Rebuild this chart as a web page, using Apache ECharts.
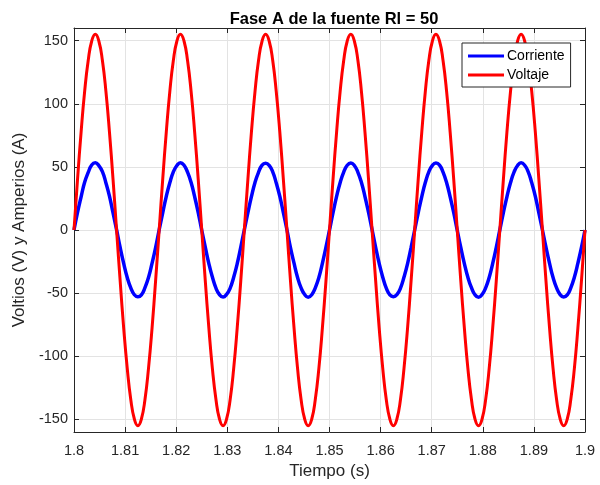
<!DOCTYPE html>
<html>
<head>
<meta charset="utf-8">
<title>Fase A de la fuente Rl = 50</title>
<script src="https://cdn.jsdelivr.net/npm/echarts@6/dist/echarts.min.js"></script>
<style>
  html, body { margin: 0; padding: 0; background: #fff; }
  #chart { width: 600px; height: 485px; }
</style>
</head>
<body>
<div id="chart"></div>
<script>
// tiempo (s), una muestra cada 1/24 de periodo (60 Hz)
const tiempo = [
  1.8, 1.80069, 1.80139, 1.80208, 1.80278, 1.80347, 1.80417, 1.80486, 1.80556, 1.80625, 1.80694, 1.80764,
  1.80833, 1.80903, 1.80972, 1.81042, 1.81111, 1.81181, 1.8125, 1.81319, 1.81389, 1.81458, 1.81528, 1.81597,
  1.81667, 1.81736, 1.81806, 1.81875, 1.81944, 1.82014, 1.82083, 1.82153, 1.82222, 1.82292, 1.82361, 1.82431,
  1.825, 1.82569, 1.82639, 1.82708, 1.82778, 1.82847, 1.82917, 1.82986, 1.83056, 1.83125, 1.83194, 1.83264,
  1.83333, 1.83403, 1.83472, 1.83542, 1.83611, 1.83681, 1.8375, 1.83819, 1.83889, 1.83958, 1.84028, 1.84097,
  1.84167, 1.84236, 1.84306, 1.84375, 1.84444, 1.84514, 1.84583, 1.84653, 1.84722, 1.84792, 1.84861, 1.84931,
  1.85, 1.85069, 1.85139, 1.85208, 1.85278, 1.85347, 1.85417, 1.85486, 1.85556, 1.85625, 1.85694, 1.85764,
  1.85833, 1.85903, 1.85972, 1.86042, 1.86111, 1.86181, 1.8625, 1.86319, 1.86389, 1.86458, 1.86528, 1.86597,
  1.86667, 1.86736, 1.86806, 1.86875, 1.86944, 1.87014, 1.87083, 1.87153, 1.87222, 1.87292, 1.87361, 1.87431,
  1.875, 1.87569, 1.87639, 1.87708, 1.87778, 1.87847, 1.87917, 1.87986, 1.88056, 1.88125, 1.88194, 1.88264,
  1.88333, 1.88403, 1.88472, 1.88542, 1.88611, 1.88681, 1.8875, 1.88819, 1.88889, 1.88958, 1.89028, 1.89097,
  1.89167, 1.89236, 1.89306, 1.89375, 1.89444, 1.89514, 1.89583, 1.89653, 1.89722, 1.89792, 1.89861, 1.89931,
  1.9
]

// corriente (A), con un poco de ruido
const corriente = [
  0, 13.9, 26.3, 37.8, 45.6, 51.5, 53.2, 51.0, 46.2, 37.3, 26.8, 13.5,
  0.3, -13.8, -26.4, -37.6, -45.8, -51.3, -52.9, -51.4, -45.7, -37.7, -26.3, -13.9,
  0.2, 13.6, 26.7, 37.4, 46.1, 51.1, 53.3, 51.3, 45.8, 37.6, 26.4, 13.8,
  -0.2, -13.6, -26.6, -37.3, -46.0, -51.2, -53.1, -51.0, -46.1, -37.4, -26.7, -13.5,
  0.1, 13.8, 26.4, 37.7, 45.7, 51.4, 52.9, 51.2, 46.0, 37.3, 26.6, 13.7,
  0.2, -13.9, -26.3, -37.6, -45.9, -51.1, -53.2, -51.3, -45.8, -37.7, -26.4, -13.6,
  -0.1, 13.7, 26.6, 37.5, 45.9, 51.3, 53.1, 51.1, 45.7, 37.6, 26.5, 13.9,
  0.3, -13.7, -26.5, -37.4, -46.1, -51.4, -52.8, -51.2, -46.0, -37.3, -26.6, -13.8,
  0, 13.6, 26.5, 37.6, 46.0, 51.2, 53.0, 51.4, 45.8, 37.5, 26.3, 13.7,
  -0.2, -13.8, -26.6, -37.5, -45.7, -51.3, -53.3, -51.1, -45.9, -37.6, -26.5, -13.7,
  0.1, 13.8, 26.3, 37.4, 45.8, 51.1, 53.2, 51.3, 46.1, 37.4, 26.7, 13.6,
  0, -13.6, -26.4, -37.7, -45.9, -51.2, -53.0, -51.4, -45.8, -37.4, -26.3, -13.8,
  0
]

// voltaje (V)
const voltaje = [
  0, 40.1, 77.5, 109.6, 134.2, 149.7, 155, 149.7, 134.2, 109.6, 77.5, 40.1,
  0, -40.1, -77.5, -109.6, -134.2, -149.7, -155, -149.7, -134.2, -109.6, -77.5, -40.1,
  0, 40.1, 77.5, 109.6, 134.2, 149.7, 155, 149.7, 134.2, 109.6, 77.5, 40.1,
  0, -40.1, -77.5, -109.6, -134.2, -149.7, -155, -149.7, -134.2, -109.6, -77.5, -40.1,
  0, 40.1, 77.5, 109.6, 134.2, 149.7, 155, 149.7, 134.2, 109.6, 77.5, 40.1,
  0, -40.1, -77.5, -109.6, -134.2, -149.7, -155, -149.7, -134.2, -109.6, -77.5, -40.1,
  0, 40.1, 77.5, 109.6, 134.2, 149.7, 155, 149.7, 134.2, 109.6, 77.5, 40.1,
  0, -40.1, -77.5, -109.6, -134.2, -149.7, -155, -149.7, -134.2, -109.6, -77.5, -40.1,
  0, 40.1, 77.5, 109.6, 134.2, 149.7, 155, 149.7, 134.2, 109.6, 77.5, 40.1,
  0, -40.1, -77.5, -109.6, -134.2, -149.7, -155, -149.7, -134.2, -109.6, -77.5, -40.1,
  0, 40.1, 77.5, 109.6, 134.2, 149.7, 155, 149.7, 134.2, 109.6, 77.5, 40.1,
  0, -40.1, -77.5, -109.6, -134.2, -149.7, -155, -149.7, -134.2, -109.6, -77.5, -40.1,
  0
]

const xTicks = [1.8, 1.81, 1.82, 1.83, 1.84, 1.85, 1.86, 1.87, 1.88, 1.89, 1.9]
const yTicks = [-150, -100, -50, 0, 50, 100, 150]

const font = 'Liberation Sans, Arial, Helvetica, sans-serif'
const ink = '#262626'

function pares(ys) {
  return tiempo.map((t, i) => [t, ys[i]])
}

function ejeX(extra) {
  return Object.assign({
    type: 'value',
    min: 1.8,
    max: 1.9,
    axisLine: { onZero: false, lineStyle: { color: ink, width: 1 } },
    axisTick: { inside: true, length: 5, customValues: xTicks, lineStyle: { color: ink } },
    axisLabel: { customValues: xTicks, color: ink, fontSize: 14.5, fontFamily: font, margin: 11 },
    splitLine: { show: true, lineStyle: { color: '#e3e3e3', width: 1 } }
  }, extra)
}

function ejeY(extra) {
  return Object.assign({
    type: 'value',
    min: -160,
    max: 160,
    axisLine: { show: true, onZero: false, lineStyle: { color: ink, width: 1 } },
    axisTick: { show: true, inside: true, length: 5, customValues: yTicks, lineStyle: { color: ink } },
    axisLabel: { customValues: yTicks, color: ink, fontSize: 14.5, fontFamily: font, margin: 6 },
    splitLine: { show: true, lineStyle: { color: '#e3e3e3', width: 1 } }
  }, extra)
}

const chart = echarts.init(document.getElementById('chart'))

chart.setOption({
  animation: false,
  backgroundColor: '#fff',
  title: {
    text: 'Fase A de la fuente Rl = 50',
    left: 329,
    textAlign: 'center',
    top: 6,
    textStyle: { fontSize: 16.5, fontWeight: 'bold', color: '#000', fontFamily: font }
  },
  legend: {
    data: ['Corriente', 'Voltaje'],
    orient: 'vertical',
    left: 462,
    top: 43,
    icon: 'rect',
    itemWidth: 36,
    itemHeight: 3,
    itemGap: 3,
    padding: [5, 6, 4, 6],
    backgroundColor: '#fff',
    borderColor: ink,
    borderWidth: 1,
    borderRadius: 0,
    textStyle: { fontSize: 14, lineHeight: 16, color: '#000', fontFamily: font, padding: [0, 0, 0, -2] }
  },
  grid: { left: 74, right: 15, top: 28, bottom: 53 },
  xAxis: [
    ejeX({
      name: 'Tiempo (s)',
      nameLocation: 'middle',
      nameGap: 30,
      nameTextStyle: { fontSize: 17, color: ink, fontFamily: font }
    }),
    ejeX({
      position: 'top',
      axisLabel: { show: false },
      splitLine: { show: false }
    })
  ],
  yAxis: [
    ejeY({
      name: 'Voltios (V) y Amperios (A)',
      nameLocation: 'middle',
      nameGap: 43,
      nameTextStyle: { fontSize: 17, color: ink, fontFamily: font }
    }),
    ejeY({
      position: 'right',
      axisLabel: { show: false },
      splitLine: { show: false }
    })
  ],
  series: [
    {
      name: 'Corriente',
      type: 'line',
      data: pares(corriente),
      smooth: true,
      showSymbol: false,
      color: '#0000ff',
      lineStyle: { color: '#0000ff', width: 3.5 }
    },
    {
      name: 'Voltaje',
      type: 'line',
      data: pares(voltaje),
      smooth: true,
      showSymbol: false,
      color: '#ff0000',
      lineStyle: { color: '#ff0000', width: 3 }
    }
  ]
})
</script>
</body>
</html>
